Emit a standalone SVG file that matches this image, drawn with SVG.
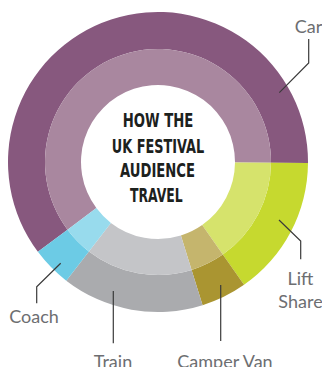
<svg xmlns="http://www.w3.org/2000/svg" width="322" height="367" viewBox="0 0 322 367">
<style>
.lbl{font-family:Lato,"Liberation Sans",sans-serif;font-size:18px;fill:#6d6e71;text-anchor:middle}
.ttl{font-family:"DejaVu Sans Condensed","DejaVu Sans","Liberation Sans",sans-serif;font-weight:bold;font-size:19px;fill:#1c211d;text-anchor:middle}
.ln{fill:none;stroke:#3a3a3a;stroke-width:1.2}
</style>
<rect width="322" height="367" fill="#ffffff"/>
<g id="car">
<path d="M 37.89 251.85 A 150 150 0 1 1 308.00 163.05 L 271.00 162.79 A 113 113 0 1 0 67.52 229.69 Z" fill="#87587e"/>
<path d="M 67.52 229.69 A 113 113 0 1 1 271.00 162.79 L 235.00 162.54 A 77 77 0 1 0 96.34 208.12 Z" fill="#a9879f"/>
<text class="lbl" x="308.5" y="33">Car</text>
</g>
<g id="lift-share">
<path d="M 308.00 163.05 A 150 150 0 0 1 244.04 284.87 L 222.81 254.56 A 113 113 0 0 0 271.00 162.79 Z" fill="#c6d92f"/>
<path d="M 271.00 162.79 A 113 113 0 0 1 222.81 254.56 L 202.17 225.07 A 77 77 0 0 0 235.00 162.54 Z" fill="#d6e36c"/>
<text class="lbl" x="300.5" y="285">Lift</text>
<text class="lbl" x="300.5" y="308">Share</text>
</g>
<g id="camper-van">
<path d="M 244.04 284.87 A 150 150 0 0 1 202.61 305.21 L 191.60 269.89 A 113 113 0 0 0 222.81 254.56 Z" fill="#aa9531"/>
<path d="M 222.81 254.56 A 113 113 0 0 1 191.60 269.89 L 180.90 235.52 A 77 77 0 0 0 202.17 225.07 Z" fill="#c5b56d"/>
<text class="lbl" x="225" y="367.5">Camper Van</text>
</g>
<g id="train">
<path d="M 202.61 305.21 A 150 150 0 0 1 66.27 280.68 L 88.90 251.41 A 113 113 0 0 0 191.60 269.89 Z" fill="#aaabae"/>
<path d="M 191.60 269.89 A 113 113 0 0 1 88.90 251.41 L 110.91 222.92 A 77 77 0 0 0 180.90 235.52 Z" fill="#c4c5c8"/>
<text class="lbl" x="113" y="367.5">Train</text>
</g>
<g id="coach">
<path d="M 66.27 280.68 A 150 150 0 0 1 37.89 251.85 L 67.52 229.69 A 113 113 0 0 0 88.90 251.41 Z" fill="#6ccbe5"/>
<path d="M 88.90 251.41 A 113 113 0 0 1 67.52 229.69 L 96.34 208.12 A 77 77 0 0 0 110.91 222.92 Z" fill="#98dbed"/>
<text class="lbl" x="34" y="323">Coach</text>
</g>
<g id="title">
<text class="ttl" x="158" y="126.8" textLength="70.6" lengthAdjust="spacingAndGlyphs">HOW THE</text>
<text class="ttl" x="158" y="153" textLength="92.3" lengthAdjust="spacingAndGlyphs">UK FESTIVAL</text>
<text class="ttl" x="157.5" y="176.5" textLength="75" lengthAdjust="spacingAndGlyphs">AUDIENCE</text>
<text class="ttl" x="156.3" y="201.7" textLength="52.7" lengthAdjust="spacingAndGlyphs">TRAVEL</text>
</g>
<g id="connectors">
<path class="ln" d="M 308.7 39 V 63 L 279.3 92.7"/>
<path class="ln" d="M 279 220 L 300.7 241 V 259.3"/>
<path class="ln" d="M 220.7 285 V 341"/>
<path class="ln" d="M 113.3 291 V 343.3"/>
<path class="ln" d="M 60.7 263.3 L 36.7 286.7 V 303.3"/>
</g>
</svg>
